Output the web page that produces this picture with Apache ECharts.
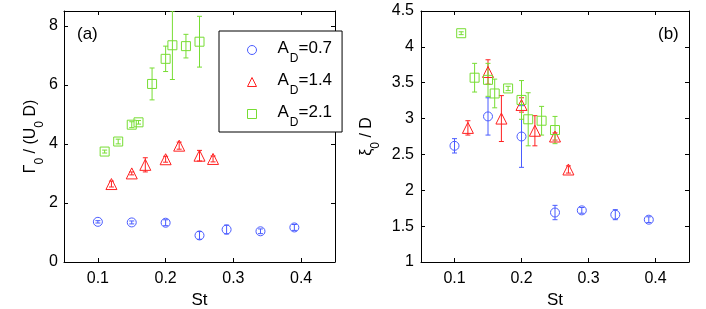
<!DOCTYPE html>
<html><head><meta charset="utf-8">
<script src="https://cdn.jsdelivr.net/npm/echarts@6/dist/echarts.min.js"></script>
<style>html,body{margin:0;padding:0;background:#fff}#c{width:706px;height:309px}</style>
</head><body><div id="c"></div>
<script>
// ---- data ----
const stBlue  = [0.10, 0.15, 0.20, 0.25, 0.29, 0.34, 0.39];
const stRed   = [0.12, 0.15, 0.17, 0.20, 0.22, 0.25, 0.27];
const stGreen = [0.11, 0.13, 0.15, 0.16, 0.18, 0.20, 0.21, 0.23, 0.25];

// panel (a): Gamma0/(U0 D)
const gammaBlue     = [1.36, 1.34, 1.33, 0.90, 1.10, 1.04, 1.17];
const gammaBlueErr  = [0.04, 0.05, 0.10, 0.13, 0.15, 0.08, 0.10];
const gammaRed      = [2.64, 3.00, 3.29, 3.48, 3.94, 3.60, 3.49];
const gammaRedErr   = [0.10, 0.05, 0.24, 0.10, 0.12, 0.18, 0.10];
const gammaGreen    = [3.74, 4.08, 4.65, 4.73, 6.03, 6.88, 7.34, 7.31, 7.46];
const gammaGreenErr = [0.05, 0.08, 0.10, 0.06, 0.54, 0.43, 1.16, 0.40, 0.86];

// panel (b): xi0/D
const xiBlue     = [2.62, 3.03, 2.75, 1.69, 1.72, 1.66, 1.59];
const xiBlueErr  = [0.10, 0.26, 0.43, 0.10, 0.04, 0.07, 0.04];
const xiRed      = [2.87, 3.65, 3.00, 3.19, 2.83, 2.75, 2.29];
const xiRedErr   = [0.10, 0.17, 0.32, 0.10, 0.21, 0.05, 0.05];
const xiGreen    = [4.19, 3.57, 3.54, 3.35, 3.42, 3.26, 2.99, 2.97, 2.84];
const xiGreenErr = [0.02, 0.20, 0.23, 0.20, 0.03, 0.27, 0.37, 0.20, 0.19];

const seriesNames = ['A_D=0.7', 'A_D=1.4', 'A_D=2.1'];
const xTicks = [0.1, 0.2, 0.3, 0.4];
const yTicksA = [0, 2, 4, 6, 8];
const yTicksB = [1, 1.5, 2, 2.5, 3, 3.5, 4, 4.5];

// ---- chart ----
const FONT = '"Liberation Sans", Arial, Helvetica, sans-serif';
const BLUE = '#4a5cff', RED = '#ff2020', GREEN = '#77dd33';
const chart = echarts.init(document.getElementById('c'), null, {renderer: 'canvas'});

function pts(st, v) { return st.map((s, i) => [s, v[i]]); }
function bars(st, v, e) { return st.map((s, i) => [s, v[i] - e[i], v[i] + e[i]]); }

function errSeries(xi, data, color) {
  return {
    type: 'custom', xAxisIndex: xi, yAxisIndex: xi, clip: true, silent: true,
    encode: {x: 0, y: [1, 2]},
    data: data,
    renderItem: function (params, api) {
      const x = api.value(0), lo = api.value(1), hi = api.value(2);
      const p1 = api.coord([x, lo]), p2 = api.coord([x, hi]);
      const c = 2.5;
      const st = {stroke: color, lineWidth: 1};
      return {type: 'group', children: [
        {type: 'line', shape: {x1: p1[0], y1: p1[1], x2: p2[0], y2: p2[1]}, style: st},
        {type: 'line', shape: {x1: p1[0] - c, y1: p1[1], x2: p1[0] + c, y2: p1[1]}, style: st},
        {type: 'line', shape: {x1: p2[0] - c, y1: p2[1], x2: p2[0] + c, y2: p2[1]}, style: st}
      ]};
    }
  };
}
function markSeries(name, xi, data, color, symbol, size) {
  return {
    type: 'scatter', name: name, xAxisIndex: xi, yAxisIndex: xi,
    symbol: symbol, symbolSize: size, symbolKeepAspect: true, data: data, silent: true,
    itemStyle: {color: 'transparent', borderColor: color, borderWidth: 1, opacity: 1}
  };
}

const txt = {color: '#000', fontFamily: FONT, fontSize: 16};
function xAxisDef(gi, pos) {
  const bottom = pos === 'bottom';
  return {
    gridIndex: gi, type: 'value', min: 0.05, max: 0.45, position: pos,
    axisLine: {show: true, onZero: false, lineStyle: {color: '#000', width: 1}},
    axisTick: {show: true, inside: true, length: 4, customValues: xTicks, lineStyle: {color: '#000'}},
    axisLabel: {show: bottom, customValues: xTicks, margin: 9, ...txt},
    splitLine: {show: false},
    name: bottom ? 'St' : '', nameLocation: 'middle', nameGap: 26,
    nameTextStyle: {...txt, fontSize: 17}
  };
}
function yAxisDef(gi, pos, min, max, ticks, margin, name, rich, gap) {
  const left = pos === 'left';
  return {
    gridIndex: gi, type: 'value', min: min, max: max, position: pos,
    axisLine: {show: true, onZero: false, lineStyle: {color: '#000', width: 1}},
    axisTick: {show: true, inside: true, length: 4, customValues: ticks, lineStyle: {color: '#000'}},
    axisLabel: {show: left, customValues: ticks, margin: margin, ...txt},
    splitLine: {show: false},
    name: left ? name : '', nameLocation: 'middle', nameGap: gap, nameRotate: 90,
    nameTextStyle: {...txt, rich: rich}
  };
}
const nameRich = {
  m: {fontSize: 16, fontFamily: FONT, color: '#000', lineHeight: 18, verticalAlign: 'top'},
  s: {fontSize: 12, fontFamily: FONT, color: '#000', lineHeight: 12, padding: [11, 0, 0, 0], verticalAlign: 'top'}
};

const option = {
  backgroundColor: '#fff',
  animation: false,
  grid: [
    {left: 64, top: 11, width: 271, height: 251, outerBoundsMode: 'none', containLabel: false},
    {left: 421, top: 11, width: 268, height: 251, outerBoundsMode: 'none', containLabel: false}
  ],
  xAxis: [xAxisDef(0, 'bottom'), xAxisDef(0, 'top'), xAxisDef(1, 'bottom'), xAxisDef(1, 'top')],
  yAxis: [
    yAxisDef(0, 'left', 0, 8.5, yTicksA, 6, '{m|Γ}{s|0}{m| / (U}{s|0}{m| D)}', nameRich, 18),
    yAxisDef(0, 'right', 0, 8.5, yTicksA, 8, '', nameRich, 30),
    yAxisDef(1, 'left', 1, 4.5, yTicksB, 7, '{m|ξ}{s|0}{m| / D}', nameRich, 44),
    yAxisDef(1, 'right', 1, 4.5, yTicksB, 8, '', nameRich, 30)
  ],
  legend: {
    left: 219, top: 31, orient: 'vertical',
    data: seriesNames,
    padding: [9, 10, 3, 28],
    itemWidth: 9, itemHeight: 9, itemGap: 7,
    symbolKeepAspect: true,
    itemStyle: {borderWidth: 1},
    borderColor: '#000', borderWidth: 1, backgroundColor: '#fff', borderRadius: 0,
    selectedMode: false,
    formatter: function (n) { const p = n.split('_D'); return '{a0|' + p[0] + '}{s|D}{a|' + p[1] + '}'; },
    textStyle: {
      color: '#000', fontFamily: FONT,
      rich: {
        a0: {fontSize: 17, fontFamily: FONT, color: '#000', lineHeight: 20, verticalAlign: 'top', padding: [0, 0, 0, 16]},
        a: {fontSize: 17, fontFamily: FONT, color: '#000', lineHeight: 20, verticalAlign: 'top'},
        s: {fontSize: 12, fontFamily: FONT, color: '#000', lineHeight: 12, padding: [13, 0, 0, 1], verticalAlign: 'top'}
      }
    }
  },
  graphic: [
    {type: 'text', left: 77, top: 26, style: {text: '(a)', font: '17px ' + FONT, fill: '#000'}},
    {type: 'text', left: 658, top: 26, style: {text: '(b)', font: '17px ' + FONT, fill: '#000'}}
  ],
  series: [
    errSeries(0, bars(stBlue, gammaBlue, gammaBlueErr), BLUE),
    markSeries(seriesNames[0], 0, pts(stBlue, gammaBlue), BLUE, 'circle', 9),
    errSeries(0, bars(stRed, gammaRed, gammaRedErr), RED),
    markSeries(seriesNames[1], 0, pts(stRed, gammaRed), RED, 'triangle', 11),
    errSeries(0, bars(stGreen, gammaGreen, gammaGreenErr), GREEN),
    markSeries(seriesNames[2], 0, pts(stGreen, gammaGreen), GREEN, 'rect', 9),
    errSeries(2, bars(stBlue, xiBlue, xiBlueErr), BLUE),
    markSeries(seriesNames[0], 2, pts(stBlue, xiBlue), BLUE, 'circle', 9),
    errSeries(2, bars(stRed, xiRed, xiRedErr), RED),
    markSeries(seriesNames[1], 2, pts(stRed, xiRed), RED, 'triangle', 11),
    errSeries(2, bars(stGreen, xiGreen, xiGreenErr), GREEN),
    markSeries(seriesNames[2], 2, pts(stGreen, xiGreen), GREEN, 'rect', 9)
  ]
};
chart.setOption(option);
</script>
</body></html>
